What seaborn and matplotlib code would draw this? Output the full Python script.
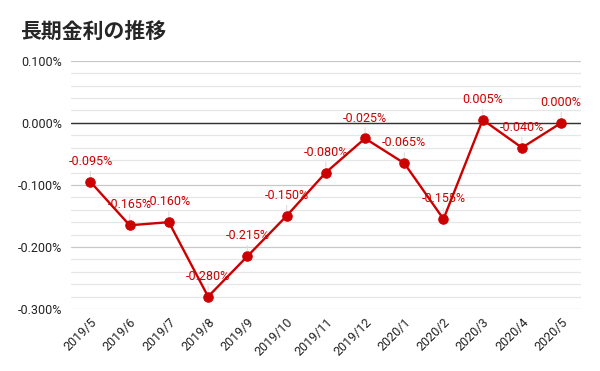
import numpy as np
import pandas as pd
import matplotlib
matplotlib.use("Agg")
import matplotlib.pyplot as plt
import seaborn as sns
from matplotlib.ticker import FuncFormatter, MultipleLocator

# data
months = ["2019/5", "2019/6", "2019/7", "2019/8", "2019/9", "2019/10", "2019/11",
          "2019/12", "2020/1", "2020/2", "2020/3", "2020/4", "2020/5"]
rates = [-0.095, -0.165, -0.160, -0.280, -0.215, -0.150, -0.080,
         -0.025, -0.065, -0.155, 0.005, -0.040, 0.000]
title = "長期金利の推移"

df = pd.DataFrame({"month": months, "rate": rates})

sns.set_style("white")
plt.rcParams['font.family'] = ['Roboto', 'Noto Sans CJK JP', 'DejaVu Sans']

red = "#cc0000"

fig = plt.figure(figsize=(6, 3.71), dpi=100)
ax = fig.add_axes([0.118, 0.167, 0.85, 0.669])

sns.lineplot(data=df, x="month", y="rate", sort=False, color=red, linewidth=1.7,
             marker="o", markersize=6.8, markeredgecolor=red, ax=ax, zorder=5)

ax.set_xlim(-0.5, len(months) - 0.5)
ax.set_ylim(-0.3, 0.1)
ax.yaxis.set_major_locator(MultipleLocator(0.1))
ax.yaxis.set_minor_locator(MultipleLocator(0.02))
ax.yaxis.set_major_formatter(FuncFormatter(lambda v, p: f"{v:.3f}%"))
ax.grid(which="major", axis="y", color="#c8c8c8", linewidth=0.9)
ax.grid(which="minor", axis="y", color="#e6e6e6", linewidth=0.9)
ax.grid(False, axis="x")
ax.axhline(0, color="#333333", linewidth=1.0, zorder=3)
for s in ax.spines.values():
    s.set_visible(False)
ax.tick_params(axis="both", which="both", length=0, labelsize=9, colors="#222222")
ax.tick_params(axis="y", pad=6)
ax.tick_params(axis="x", pad=5)
ax.set_xticks(range(len(months)))
ax.set_xticklabels(months, rotation=45, ha="right", rotation_mode="anchor")
ax.set_xlabel("")
ax.set_ylabel("")

# data labels with faint leader lines
for i, v in enumerate(rates):
    ax.annotate(f"{v:.3f}%", xy=(i, v), xytext=(0, 10), textcoords="offset points",
                ha="center", va="bottom", color=red, fontsize=9,
                arrowprops=dict(arrowstyle="-", color="#dddddd", linewidth=0.8,
                                shrinkA=0, shrinkB=4), zorder=6)

fig.text(0.033, 0.916, title, fontsize=15, fontweight="bold",
         family=['Noto Sans CJK JP', 'DejaVu Sans'], va="center", ha="left")

fig.savefig("out.png", dpi=100, facecolor="white")
